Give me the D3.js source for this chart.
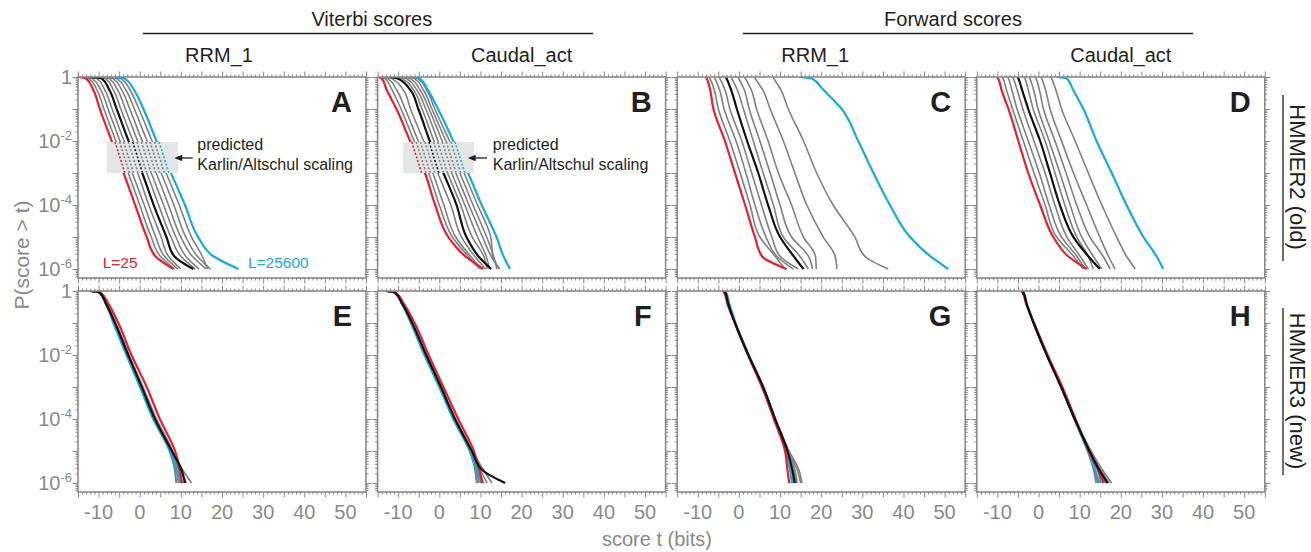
<!DOCTYPE html>
<html><head><meta charset="utf-8">
<script src="https://cdn.jsdelivr.net/npm/d3@7"></script>
<style>
body{margin:0;background:#fff}
svg{display:block}
text{font-family:"Liberation Sans",Arial,Helvetica,sans-serif}
</style>
</head><body>
<svg id="c" width="1311" height="552"></svg>
<script>
// ---------------- DATA ----------------
// log10 P(score > t) levels at which each curve's score t is read
const levels = [0, -0.05, -0.4, -1, -2, -3, -4, -5, -5.6, -6];
const seqLengths = [25, 50, 100, 200, 400, 800, 1600, 3200, 6400, 12800, 25600];
const xTickLabels = [-10, 0, 10, 20, 30, 40, 50];
const yTickExps = [0, -2, -4, -6];

// each row: one sequence length (L=25 ... L=25600), values = score t at each level
const panelA = [
  [-14.9, -13.0, -11.3, -9.7, -6.8, -3.9, -1.1, 1.7, 3.8, 8.2],
  [-14.5, -12.3, -10.4, -8.7, -5.8, -2.8, 0.0, 2.8, 5.0, 8.5],
  [-13.8, -11.5, -9.5, -7.7, -4.8, -1.8, 1.1, 3.9, 6.0, 9.3],
  [-13.0, -10.4, -8.5, -6.7, -3.8, -0.5, 2.2, 5.2, 7.0, 10.0],
  [-12.3, -9.2, -7.4, -5.6, -2.7, 0.6, 3.4, 6.5, 8.4, 13.0],
  [-11.5, -8.3, -6.4, -4.6, -1.6, 1.7, 4.6, 7.6, 10.0, 13.5],
  [-10.5, -7.4, -5.4, -3.5, -0.5, 2.8, 5.8, 8.8, 11.2, 14.4],
  [-9.5, -6.4, -4.4, -2.4, 0.6, 4.0, 7.0, 10.0, 12.8, 16.2],
  [-8.5, -5.5, -3.4, -1.3, 1.8, 5.2, 8.3, 11.2, 14.0, 17.2],
  [-7.5, -4.5, -2.4, -0.2, 3.0, 6.4, 9.6, 12.6, 15.2, 16.5],
  [-6.5, -3.6, -1.4, 0.9, 4.1, 7.6, 11.0, 14.2, 17.9, 24.0]
];
const panelB = [
  [-14.8, -14.0, -12.8, -10.4, -7.1, -3.5, -1.0, 2.2, 6.3, 10.7],
  [-14.5, -13.2, -11.5, -9.3, -6.1, -2.6, 0.0, 3.2, 7.0, 9.8],
  [-14.0, -12.5, -10.4, -8.3, -5.1, -1.6, 1.1, 4.0, 7.6, 10.3],
  [-13.3, -11.5, -8.8, -7.0, -3.8, -0.4, 2.8, 5.4, 8.6, 11.2],
  [-12.0, -10.1, -7.1, -5.1, -2.3, 1.0, 4.2, 6.6, 9.5, 12.6],
  [-11.0, -9.0, -6.3, -4.2, -1.3, 2.0, 5.2, 8.0, 10.8, 11.6],
  [-10.0, -8.0, -5.5, -3.3, -0.3, 3.0, 6.2, 9.3, 11.4, 12.2],
  [-9.0, -7.0, -4.7, -2.5, 0.7, 4.0, 7.2, 10.5, 12.6, 14.6],
  [-8.0, -6.0, -3.9, -1.8, 1.6, 5.0, 8.2, 11.5, 13.2, 14.0],
  [-7.0, -5.2, -3.1, -1.1, 2.5, 6.0, 9.3, 12.5, 13.0, 14.6],
  [-6.0, -4.7, -2.8, -0.3, 3.4, 7.0, 10.3, 13.9, 15.6, 17.2]
];
const panelC = [
  [-8.0, -7.8, -7.0, -6.2, -3.4, -0.95, 1.5, 3.9, 5.6, 11.6],
  [-7.2, -7.0, -6.0, -5.0, -2.2, 0.3, 2.7, 5.1, 8.8, 11.2],
  [-6.0, -5.8, -4.7, -3.6, -0.7, 1.7, 3.9, 6.6, 9.2, 13.2],
  [-4.8, -4.6, -3.4, -2.2, 0.7, 3.1, 5.5, 8.0, 10.0, 14.4],
  [-3.2, -3.0, -1.9, -0.5, 2.0, 4.7, 7.1, 10.0, 13.3, 15.7],
  [-1.9, -1.7, -0.4, 1.1, 3.5, 5.9, 8.4, 10.8, 14.8, 16.9],
  [-0.2, 0.0, 1.3, 2.5, 5.1, 7.6, 10.0, 12.8, 16.9, 17.9],
  [1.4, 1.6, 3.0, 4.3, 7.1, 9.6, 12.8, 15.7, 18.6, 18.8],
  [3.8, 4.0, 5.8, 7.6, 10.8, 13.6, 16.5, 20.5, 23.4, 23.8],
  [8.3, 8.5, 10.2, 12.0, 15.7, 18.9, 22.9, 28.2, 30.6, 36.3],
  [14.8, 17.7, 20.5, 25.0, 29.0, 32.7, 36.7, 41.6, 46.5, 50.9]
];
const panelD = [
  [-10.2, -9.8, -9.0, -7.3, -4.9, -2.5, 0.4, 3.6, 7.2, 11.7],
  [-8.8, -8.6, -7.8, -6.3, -3.7, -1.1, 1.6, 4.4, 8.5, 10.9],
  [-7.5, -7.3, -6.5, -5.2, -2.5, 0.2, 2.6, 5.6, 9.3, 11.3],
  [-6.3, -6.1, -5.2, -3.8, -1.1, 1.6, 4.0, 6.9, 10.1, 12.1],
  [-5.1, -4.9, -4.0, -2.5, 0.4, 2.8, 5.2, 8.5, 12.1, 14.9],
  [-3.5, -3.3, -2.5, -1.3, 1.6, 4.0, 6.4, 9.3, 12.1, 13.3],
  [-2.3, -2.1, -1.2, -0.1, 2.6, 5.2, 7.7, 10.5, 13.3, 15.4],
  [-0.8, -0.6, 0.2, 1.2, 4.0, 6.7, 9.3, 12.5, 15.7, 17.4],
  [0.6, 0.8, 1.7, 2.8, 5.6, 8.5, 11.7, 14.9, 17.0, 18.6],
  [3.0, 3.2, 4.2, 5.6, 8.9, 12.1, 15.4, 19.0, 21.4, 23.5],
  [4.5, 6.9, 8.4, 10.9, 14.1, 17.8, 21.4, 25.5, 28.7, 30.3]
];
const panelE = [
  [-11.5, -9.5, -7.6, -5.2, -2.0, 1.7, 4.9, 8.6, 9.8, 10.2],
  [-12.0, -9.7, -8.0, -5.8, -2.6, 0.8, 4.1, 8.0, 9.6, 10.0],
  [-12.1, -9.8, -8.1, -6.0, -2.9, 0.4, 3.6, 7.5, 8.6, 8.9],
  [-12.1, -9.8, -8.1, -6.1, -3.0, 0.3, 3.5, 7.6, 9.4, 10.4],
  [-12.1, -9.7, -8.2, -6.0, -2.8, 0.5, 3.7, 7.8, 10.2, 11.0],
  [-12.1, -9.8, -8.1, -6.1, -3.0, 0.3, 3.6, 7.9, 10.5, 12.6],
  [-12.1, -9.8, -8.1, -6.2, -3.1, 0.2, 3.4, 7.3, 8.9, 9.4],
  [-12.1, -9.8, -8.1, -6.2, -3.1, 0.2, 3.5, 7.8, 9.8, 11.4],
  [-12.1, -9.8, -8.2, -6.3, -3.2, 0.1, 3.3, 7.2, 8.5, 8.8],
  [-12.1, -9.8, -8.2, -6.3, -3.2, 0.1, 3.4, 7.6, 9.2, 10.6],
  [-12.1, -9.8, -8.2, -6.4, -3.2, 0.1, 3.3, 7.4, 9.0, 9.8]
];
const panelF = [
  [-12.5, -10.6, -8.6, -6.0, -2.6, 1.0, 4.6, 8.4, 9.8, 10.4],
  [-12.9, -10.8, -8.9, -6.5, -3.1, 0.5, 4.0, 7.9, 9.5, 10.0],
  [-13.0, -10.9, -9.0, -6.6, -3.3, 0.3, 3.7, 7.5, 8.8, 9.2],
  [-13.0, -10.9, -9.0, -6.7, -3.4, 0.2, 3.6, 7.7, 9.6, 10.6],
  [-13.0, -10.8, -9.0, -6.6, -3.2, 0.4, 3.8, 7.9, 10.5, 16.0],
  [-13.0, -10.9, -9.0, -6.7, -3.4, 0.2, 3.7, 8.0, 10.8, 12.8],
  [-13.0, -10.9, -9.1, -6.8, -3.5, 0.1, 3.5, 7.4, 9.0, 9.6],
  [-13.0, -10.9, -9.1, -6.8, -3.5, 0.1, 3.6, 7.9, 10.0, 11.6],
  [-13.0, -10.9, -9.1, -6.9, -3.6, 0.0, 3.4, 7.3, 8.7, 9.0],
  [-13.0, -10.9, -9.1, -6.9, -3.6, 0.0, 3.5, 7.7, 9.4, 10.8],
  [-13.0, -10.9, -9.1, -6.9, -3.6, 0.0, 3.4, 7.5, 9.2, 10.2]
];
const panelG = [
  [-4.0, -3.6, -2.8, -1.0, 2.2, 5.6, 8.5, 11.2, 11.8, 12.2],
  [-3.6, -3.3, -2.6, -0.9, 2.3, 5.9, 8.8, 11.6, 12.9, 13.4],
  [-3.6, -3.3, -2.6, -0.9, 2.3, 5.8, 8.7, 11.5, 12.6, 13.0],
  [-3.6, -3.3, -2.6, -0.9, 2.3, 5.9, 8.9, 12.0, 14.2, 15.0],
  [-3.5, -3.3, -2.6, -0.95, 2.3, 5.9, 8.8, 11.8, 13.0, 13.6],
  [-3.5, -3.3, -2.6, -0.9, 2.3, 5.9, 8.9, 12.2, 14.6, 15.3],
  [-3.5, -3.3, -2.6, -0.9, 2.3, 5.8, 8.7, 11.6, 12.8, 13.2],
  [-3.5, -3.3, -2.6, -0.9, 2.3, 5.9, 8.8, 11.9, 13.6, 14.2],
  [-3.5, -3.3, -2.6, -0.9, 2.3, 5.8, 8.7, 11.4, 12.4, 12.8],
  [-3.5, -3.3, -2.6, -0.9, 2.3, 5.9, 8.8, 11.7, 13.2, 14.0],
  [-3.3, -3.1, -2.3, -0.8, 2.4, 5.8, 8.7, 11.5, 12.5, 13.0]
];
const panelH = [
  [-4.3, -3.9, -3.0, -1.1, 2.2, 5.8, 9.0, 12.2, 14.5, 15.8],
  [-4.0, -3.7, -2.9, -1.1, 2.2, 5.7, 8.9, 12.4, 14.8, 16.2],
  [-4.0, -3.7, -2.9, -1.1, 2.1, 5.6, 8.8, 12.0, 13.8, 14.6],
  [-4.0, -3.7, -2.9, -1.2, 2.1, 5.6, 8.9, 12.6, 15.2, 17.2],
  [-4.0, -3.7, -2.9, -1.2, 2.0, 5.5, 8.8, 12.4, 14.8, 16.8],
  [-4.0, -3.7, -2.9, -1.2, 2.1, 5.6, 8.9, 12.8, 15.6, 17.8],
  [-4.0, -3.7, -2.9, -1.2, 2.0, 5.5, 8.7, 12.0, 13.6, 14.4],
  [-4.0, -3.7, -2.9, -1.2, 2.1, 5.6, 8.9, 12.5, 15.0, 16.4],
  [-4.0, -3.7, -2.9, -1.2, 2.0, 5.5, 8.7, 11.9, 13.4, 14.0],
  [-4.0, -3.7, -2.9, -1.2, 2.1, 5.6, 8.8, 12.3, 14.4, 15.2],
  [-3.8, -3.6, -2.8, -1.1, 2.1, 5.5, 8.7, 12.0, 13.8, 14.8]
];

// predicted Karlin/Altschul scaling (score t at P=10^-2.03 for each L), panels A and B
const predictedA = [-6.0, -4.9, -3.9, -2.8, -1.7, -0.7, 0.4, 1.5, 2.5, 3.6, 4.7];
const predictedB = [-6.7, -5.6, -4.6, -3.5, -2.5, -1.4, -0.4, 0.7, 1.7, 2.8, 3.8];

// ---------------- LAYOUT ----------------
const PW = 288, PH = 201;
const colX = [78, 377.6, 677.2, 976.8];
const rowY = [77, 291];
const RED = "#e5202b", BLUE = "#17a9e1", BLACK = "#111111", GRAY = "#808080", AX = "#8a8a8a";
const TXT = "#231f20";

const panels = [
  {id: "A", r: 0, c: 0, data: panelA, pred: predictedA, box: [-8.0, 9.3], arrow: [12.9, 8.4], txt: 14.0},
  {id: "B", r: 0, c: 1, data: panelB, pred: predictedB, box: [-8.8, 8.4], arrow: [11.6, 6.9], txt: 13.0},
  {id: "C", r: 0, c: 2, data: panelC},
  {id: "D", r: 0, c: 3, data: panelD},
  {id: "E", r: 1, c: 0, data: panelE},
  {id: "F", r: 1, c: 1, data: panelF},
  {id: "G", r: 1, c: 2, data: panelG},
  {id: "H", r: 1, c: 3, data: panelH}
];

const svg = d3.select("#c");
const x = d3.scaleLinear().domain([-15, 55]).range([0, PW]);
const y = d3.scaleLog().domain([1, Math.pow(10, -6.28)]).range([0, PH]);
const line = d3.line().x(d => x(d[0])).y(d => y(d[1])).curve(d3.curveMonotoneY);

const xMajor = d3.range(-15, 56, 5);
const xMinor = d3.range(-15, 56, 1).filter(v => v % 5 !== 0);
const yMajor = d3.range(0, -7, -1).map(e => Math.pow(10, e));
const yMinor = [];
for (let e = 0; e > -7; e--) for (let m = 2; m <= 9; m++) {
  const v = m * Math.pow(10, e - 1);
  if (v <= 1 && v >= Math.pow(10, -6.28)) yMinor.push(v);
}

function colorOf(i) { return i === 0 ? RED : i === 4 ? BLACK : i === 10 ? BLUE : GRAY; }

function styleAxis(sel) {
  sel.select(".domain").remove();
  sel.selectAll(".tick line").attr("stroke", AX).attr("stroke-width", 1);
  sel.selectAll(".tick text").remove();
}

panels.forEach(p => {
  const g = svg.append("g").attr("transform", `translate(${colX[p.c]},${rowY[p.r]})`);
  // axes ticks, outward on all four sides
  const axes = [
    [d3.axisBottom(x), `translate(0,${PH})`, xMajor, xMinor],
    [d3.axisTop(x), null, xMajor, xMinor],
    [d3.axisLeft(y), null, yMajor, yMinor],
    [d3.axisRight(y), `translate(${PW},0)`, yMajor, yMinor]
  ];
  axes.forEach(([ax, tr, maj, min]) => {
    const a1 = g.append("g").call(ax.tickValues(maj).tickSize(5.5).tickFormat(""));
    const a2 = g.append("g").call(ax.tickValues(min).tickSize(2.5).tickFormat(""));
    if (tr) { a1.attr("transform", tr); a2.attr("transform", tr); }
    styleAxis(a1); styleAxis(a2);
  });

  const clip = "clip" + p.id;
  g.append("clipPath").attr("id", clip).append("rect").attr("width", PW).attr("height", PH);
  const lg = g.append("g").attr("clip-path", `url(#${clip})`);
  const order = [1, 2, 3, 5, 6, 7, 8, 9, 10, 0, 4];
  order.forEach(i => {
    const pts = p.data[i].map((t, k) => [t, Math.pow(10, levels[k])]);
    lg.append("path").attr("d", line(pts)).attr("fill", "none")
      .attr("stroke", colorOf(i))
      .attr("stroke-width", (i === 0 || i === 4 || i === 10) ? 2.2 : 1.6)
      .attr("stroke-linejoin", "round");
  });

  if (p.pred) {
    const yTop = Math.pow(10, -2.03), yBot = Math.pow(10, -3.0);
    g.append("rect").attr("x", x(p.box[0])).attr("y", y(yTop))
      .attr("width", x(p.box[1]) - x(p.box[0])).attr("height", y(yBot) - y(yTop))
      .attr("fill", "#e4e5e7");
    p.pred.forEach((t, i) => {
      g.append("line").attr("x1", x(t)).attr("y1", y(yTop)).attr("x2", x(t + 2.4)).attr("y2", y(yBot))
        .attr("stroke", colorOf(i)).attr("stroke-width", 1.6).attr("stroke-dasharray", "2,1.8");
    });
    const ya = y(Math.pow(10, -2.53));
    g.append("line").attr("x1", x(p.arrow[0])).attr("x2", x(p.arrow[1]) + 6).attr("y1", ya).attr("y2", ya)
      .attr("stroke", TXT).attr("stroke-width", 1.3);
    const ax0 = x(p.arrow[1]);
    g.append("path").attr("d", `M${ax0},${ya}L${ax0 + 8},${ya - 3.2}L${ax0 + 8},${ya + 3.2}Z`).attr("fill", TXT);
    const tx = x(p.txt);
    g.append("text").attr("x", tx).attr("y", y(Math.pow(10, -2.28))).attr("font-size", 16).attr("fill", TXT).text("predicted");
    g.append("text").attr("x", tx).attr("y", y(Math.pow(10, -2.9))).attr("font-size", 16).attr("fill", TXT).text("Karlin/Altschul scaling");
  }

  // frame
  g.append("rect").attr("width", PW).attr("height", PH).attr("fill", "none")
    .attr("stroke", AX).attr("stroke-width", 1.6);

  // panel letter
  g.append("text").attr("x", PW - 14).attr("y", 35).attr("text-anchor", "end")
    .attr("font-size", 29).attr("font-weight", "bold").attr("fill", TXT).text(p.id);

  if (p.id === "A") {
    g.append("text").attr("x", x(-9.0)).attr("y", y(Math.pow(10, -5.97))).attr("font-size", 15.5).attr("fill", RED).text("L=" + seqLengths[0]);
    g.append("text").attr("x", x(26.3)).attr("y", y(Math.pow(10, -5.97))).attr("font-size", 15.5).attr("fill", BLUE).text("L=" + seqLengths[10]);
  }

  // tick labels
  if (p.r === 1) {
    xTickLabels.forEach(v => {
      g.append("text").attr("x", x(v)).attr("y", PH + 27).attr("text-anchor", "middle")
        .attr("font-size", 20).attr("fill", AX).text(v);
    });
  }
  if (p.c === 0) {
    yTickExps.forEach(e => {
      const t = g.append("text").attr("x", -6).attr("y", y(Math.pow(10, e)) + 7)
        .attr("text-anchor", "end").attr("font-size", 20).attr("fill", AX);
      if (e === 0) t.text("1");
      else {
        t.append("tspan").text("10");
        t.append("tspan").attr("font-size", 13).attr("dy", -8).text(String(e));
      }
    });
  }
});

// headers
function hdr(txt, xc, yb, size, col) {
  svg.append("text").attr("x", xc).attr("y", yb).attr("text-anchor", "middle")
    .attr("font-size", size).attr("fill", col || TXT).text(txt);
}
const cc = colX.map(v => v + PW / 2);
hdr("Viterbi scores", (cc[0] + cc[1]) / 2, 26, 20);
hdr("Forward scores", (cc[2] + cc[3]) / 2 - 18, 26, 20);
svg.append("line").attr("x1", 143).attr("x2", 593).attr("y1", 33.5).attr("y2", 33.5).attr("stroke", TXT).attr("stroke-width", 1.3);
svg.append("line").attr("x1", 743).attr("x2", 1193).attr("y1", 33.5).attr("y2", 33.5).attr("stroke", TXT).attr("stroke-width", 1.3);
hdr("RRM_1", cc[0] - 3, 62, 20);
hdr("Caudal_act", cc[1], 62, 20);
hdr("RRM_1", cc[2] - 6, 62, 20);
hdr("Caudal_act", cc[3], 62, 20);

// axis titles
hdr("score t (bits)", 657, 546, 20, AX);
svg.append("text").attr("transform", "translate(29,255) rotate(-90)").attr("text-anchor", "middle")
  .attr("font-size", 21).attr("fill", AX).text("P(score > t)");

// row labels on the right
[["HMMER2 (old)", 177, 95, 261], ["HMMER3 (new)", 391, 308, 475]].forEach(([t, yc, y1, y2]) => {
  svg.append("text").attr("transform", `translate(1289.5,${yc}) rotate(90)`).attr("text-anchor", "middle")
    .attr("font-size", 22).attr("fill", TXT).text(t);
  svg.append("line").attr("x1", 1283).attr("x2", 1283).attr("y1", y1).attr("y2", y2).attr("stroke", TXT).attr("stroke-width", 1.3);
});
</script>
</body></html>
